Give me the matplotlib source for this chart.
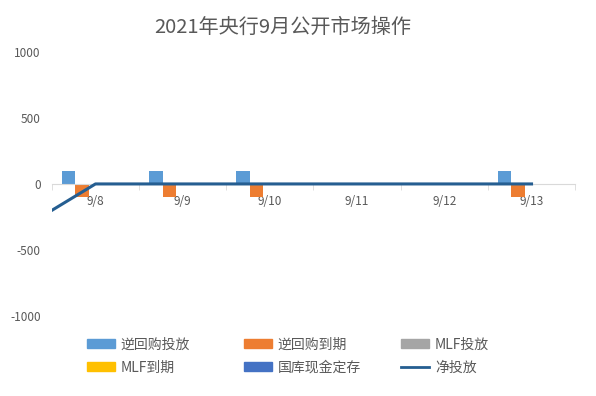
import numpy as np
import matplotlib
matplotlib.use('Agg')
import matplotlib.pyplot as plt
from matplotlib.patches import Patch
from matplotlib.lines import Line2D

plt.rcParams['font.family'] = ['Noto Sans CJK SC', 'DejaVu Sans']
plt.rcParams['axes.unicode_minus'] = False

# data (9/7 is in the source table but outside the shown axis range)
dates = ['9/7', '9/8', '9/9', '9/10', '9/11', '9/12', '9/13']
repo_in = [100, 100, 100, 100, 0, 0, 100]
repo_out = [-500, -100, -100, -100, 0, 0, -100]
mlf_in = [0, 0, 0, 0, 0, 0, 0]
mlf_out = [0, 0, 0, 0, 0, 0, 0]
treasury = [0, 0, 0, 0, 0, 0, 0]
net = [-400, 0, 0, 0, 0, 0, 0]

bar_names = ['逆回购投放', '逆回购到期', 'MLF投放', 'MLF到期', '国库现金定存']
bar_colors = ['#5B9BD5', '#ED7D31', '#A5A5A5', '#FFC000', '#4472C4']
line_color = '#255E91'
txt = '#595959'

fig = plt.figure(figsize=(5.96, 3.96), dpi=100)
ax = fig.add_axes([0.087, 0.202, 0.878, 0.667])

x = np.arange(len(dates))
w = 0.154
series = [repo_in, repo_out, mlf_in, mlf_out, treasury]
for i, (vals, c) in enumerate(zip(series, bar_colors)):
    ax.bar(x + (i - 2) * w, vals, width=w, color=c, zorder=2)
ax.plot(x, net, color=line_color, lw=2.2, zorder=3)

ax.set_xlim(0.5, len(dates) - 0.5)
ax.set_ylim(-1000, 1000)
ax.set_yticks([-1000, -500, 0, 500, 1000])
ax.set_xticks(x[1:])
ax.set_xticklabels(dates[1:])
ax.set_xticks(np.arange(0.5, len(dates), 1.0), minor=True)

for s in ['top', 'right', 'left']:
    ax.spines[s].set_visible(False)
ax.spines['bottom'].set_position(('data', 0))
ax.spines['bottom'].set_color('#D9D9D9')
ax.tick_params(axis='x', which='major', length=0, pad=8, labelsize=8.5, labelcolor=txt)
ax.tick_params(axis='x', which='minor', length=4, color='#D9D9D9')
ax.tick_params(axis='y', length=0, pad=8, labelsize=8.5, labelcolor=txt)

fig.text(0.474, 0.93, '2021年央行9月公开市场操作', ha='center', va='center',
         fontsize=14.5, color=txt)

handles = [Patch(color=c) for c in bar_colors] + [Line2D([], [], color=line_color, lw=2)]
labels = bar_names + ['净投放']
cols = [(0, 3), (1, 4), (2, 5)]
xs = [0.135, 0.398, 0.662]
for (a, b), xx in zip(cols, xs):
    leg = fig.legend([handles[a], handles[b]], [labels[a], labels[b]],
                     loc='upper left', bbox_to_anchor=(xx, 0.165), frameon=False,
                     fontsize=10, handlelength=2.0, handleheight=0.6,
                     handletextpad=0.4, labelspacing=0.65, borderpad=0)
    for t in leg.get_texts():
        t.set_color(txt)

fig.savefig('out.png', dpi=100)
